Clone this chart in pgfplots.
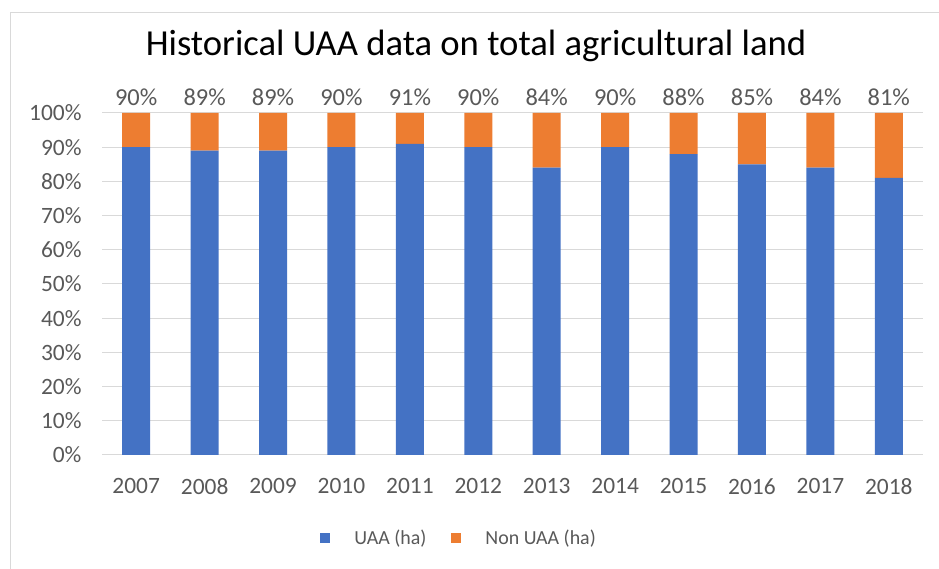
\documentclass[border=0pt]{standalone}
\usepackage{pgfplots}
\pgfplotsset{compat=1.18}
\usepackage{pgfplotstable}
\usepackage{fontspec}
\setmainfont{Carlito}

\definecolor{uaablue}{HTML}{4472C4}
\definecolor{nonorange}{HTML}{ED7D31}
\definecolor{txtgray}{HTML}{595959}
\definecolor{gridgray}{HTML}{D9D9D9}

% share of UAA and non UAA in total agricultural land (%)
% top = height of the full bar, where the label sits
\pgfplotstableread{
idx year uaa non top
0  2007 90 10 100
1  2008 89 11 100
2  2009 89 11 100
3  2010 90 10 100
4  2011 91 9  100
5  2012 90 10 100
6  2013 84 16 100
7  2014 90 10 100
8  2015 88 12 100
9  2016 85 15 100
10 2017 84 16 100
11 2018 81 19 100
}\uaadata

\pgfplotsset{
  plotbox/.style={
    at={(102bp,114bp)}, anchor=south west,
    scale only axis, width=821bp, height=342bp,
    xmin=-0.5, xmax=11.5, ymin=0, ymax=100,
    /pgf/number format/assume math mode=true,
  }
}

\begin{document}
\begin{tikzpicture}[x=1bp,y=1bp]
\path[use as bounding box] (0,0) rectangle (939,569);
\draw[gridgray, line width=1bp] (10,0) -- (10,556) -- (939,556);
\node[font=\fontsize{36.8}{42}\selectfont] at (476,523) {Historical UAA data on total agricultural land};
\begin{axis}[
    plotbox,
    ybar stacked, bar width=28bp,
    ytick={0,10,...,100},
    xtick=data,
    xticklabels={2007,2008,2009,2010,2011,2012,2013,2014,2015,2016,2017,2018},
    yticklabel={\pgfmathprintnumber{\tick}\%},
    axis line style={draw=none},
    major tick length=0pt,
    ymajorgrids, grid style={gridgray, line width=1bp},
    tick label style={font=\fontsize{23.5}{28}\selectfont, text=txtgray},
    xticklabel style={yshift=-20bp},
    yticklabel style={xshift=-17bp},
    legend columns=2,
    legend style={at={(0.435,-0.243)}, anchor=center, draw=none,
      font=\fontsize{20}{24}\selectfont, text=txtgray,
      /tikz/every odd column/.append style={column sep=22bp},
      /tikz/every even column/.append style={column sep=23bp}},
    legend image code/.code={\fill[#1] (0bp,-5bp) rectangle (10bp,5bp);},
  ]
  \addplot[fill=uaablue, draw=none] table[x=idx, y=uaa] {\uaadata};
  \addplot[fill=nonorange, draw=none] table[x=idx, y=non] {\uaadata};
  \legend{UAA (ha), Non UAA (ha)}
\end{axis}
% labels on top of the bars: share of UAA
\begin{axis}[plotbox, hide axis]
  \addplot[draw=none, mark=none,
    point meta=explicit,
    nodes near coords={\pgfmathprintnumber{\pgfplotspointmeta}\%},
    nodes near coords style={font=\fontsize{24.5}{29}\selectfont, text=txtgray, anchor=south, yshift=4bp}]
    table[x=idx, y=top, meta=uaa] {\uaadata};
\end{axis}
\end{tikzpicture}
\end{document}
